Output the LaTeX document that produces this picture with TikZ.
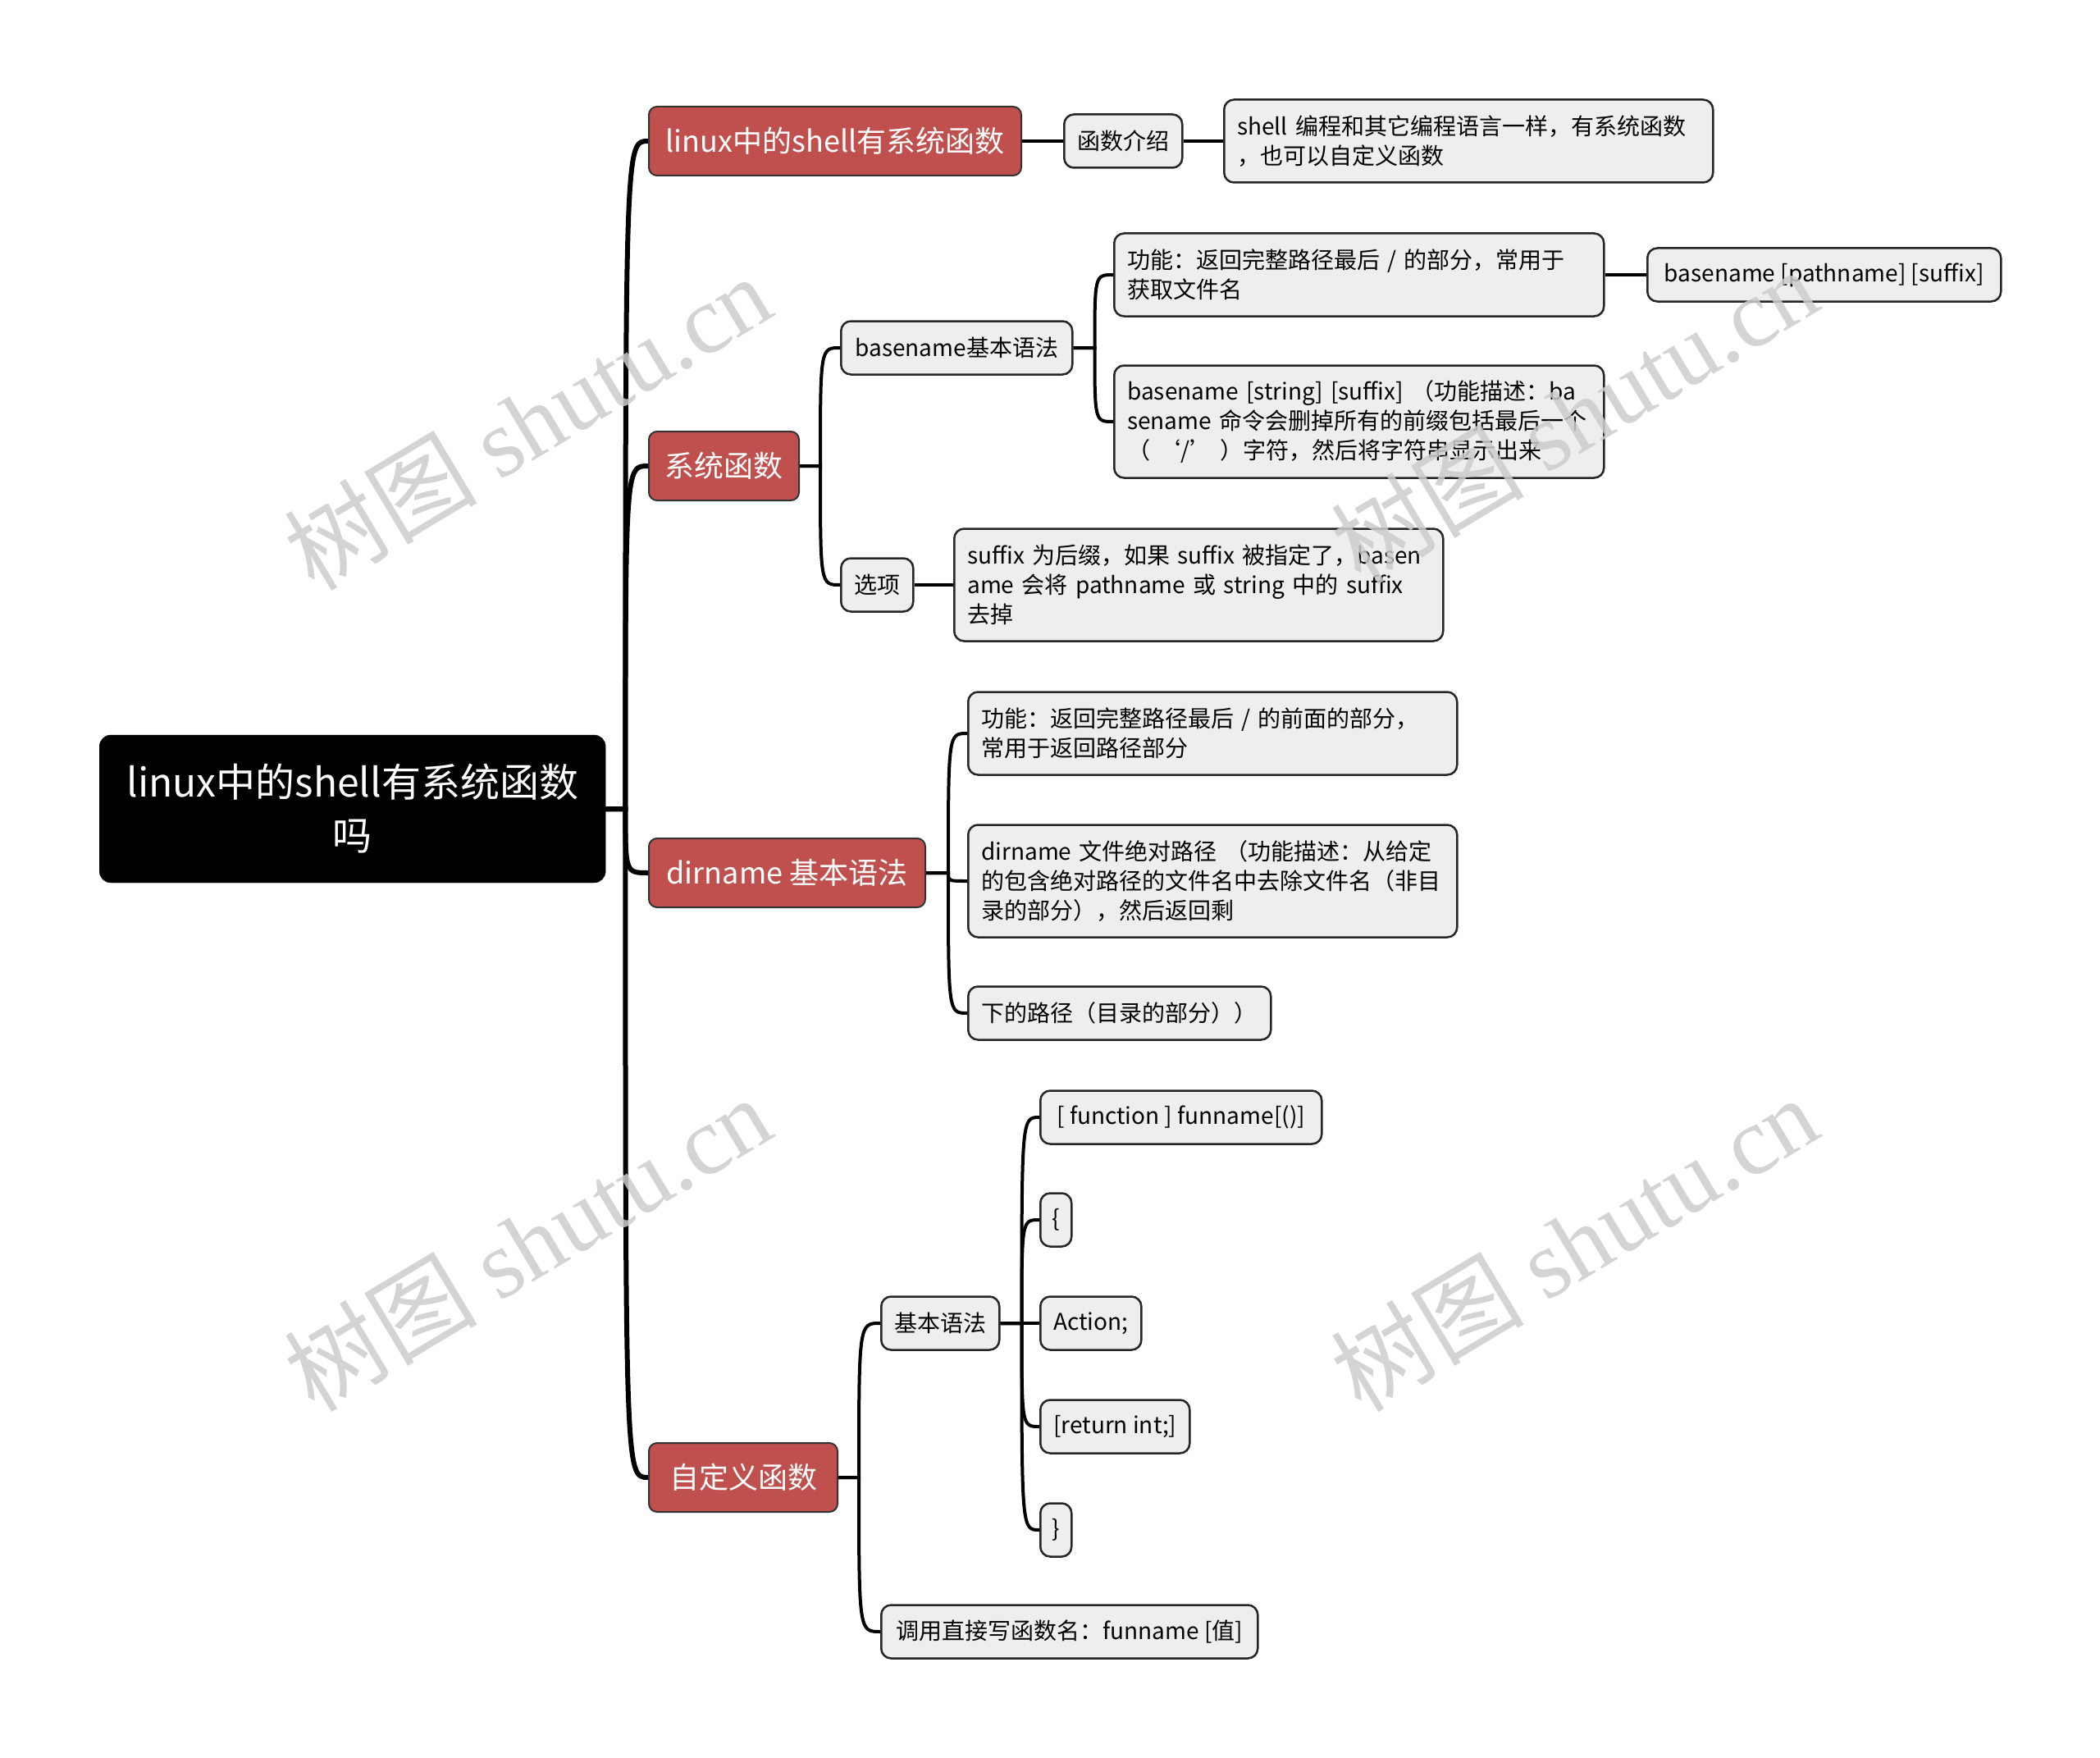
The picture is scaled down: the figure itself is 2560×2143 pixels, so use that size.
\documentclass[tikz,border=0pt]{standalone}
\usepackage{fontspec}
\setmainfont{Noto Sans CJK SC}
\newfontfamily\wmlat{Liberation Serif}
\newfontfamily\wmcjk{Noto Sans CJK SC}
\usetikzlibrary{backgrounds,calc}
\definecolor{nodered}{HTML}{BF504D}
\definecolor{nodegray}{HTML}{EEEEEE}
\definecolor{wmgray}{HTML}{CCCCCC}
\newcommand\brnch[3][conn]{%
  \draw[#1] (#2.east) -- (s-#2) .. controls (s-#2 |- #3.west) and (s-#2 |- #3.west) .. (#3.west);}
\begin{document}
\begin{tikzpicture}[x=1pt,y=-1pt,
  rootbox/.style={fill=black, draw=black, rounded corners=14pt, text=white, align=center,
    font=\fontsize{48}{65}\selectfont, minimum width=617pt, minimum height=180pt, inner sep=0pt, anchor=west},
  redbox/.style={fill=nodered, draw=black!80, line width=2pt, rounded corners=10pt, text=white,
    font=\fontsize{36}{44}\selectfont, minimum height=84pt, inner sep=0pt, anchor=west},
  graybox/.style={fill=nodegray, draw=black!85, line width=2.5pt, rounded corners=12pt,
    font=\fontsize{28}{36}\selectfont, minimum height=65pt, inner xsep=16pt, inner ysep=0pt, anchor=west},
  multi/.style={align=left, text width=#1},
  conn/.style={line width=4pt},
  trunk/.style={line width=6pt},
  wm/.style={text=wmgray, font=\fontsize{118}{118}\selectfont, opacity=0.85, rotate=31}]
\useasboundingbox (0,0) rectangle (2560,2143);

% root
\node[rootbox] (root) at (121,986) {linux中的shell有系统函数\\吗};

% level 1
\node[redbox, minimum width=454pt] (n1) at (790,172) {linux中的shell有系统函数};
\node[redbox, minimum width=183pt] (n2) at (790,568) {系统函数};
\node[redbox, minimum width=337pt] (n3) at (790,1064) {dirname 基本语法};
\node[redbox, minimum width=230pt] (n4) at (790,1801) {自定义函数};

% branch 1
\node[graybox, minimum width=142pt] (intro) at (1296,172) {函数介绍};
\node[graybox, multi=564pt, minimum height=101pt] (shell) at (1491,172)
  {\mbox{shell 编程和其它编程语言一样，有系统函数}\\\mbox{，也可以自定义函数}};

% branch 2
\node[graybox, minimum width=282pt] (bbasic) at (1024,424) {basename基本语法};
\node[graybox, minimum width=86pt] (opt) at (1024,713) {选项};
\node[graybox, multi=565pt, minimum height=101pt] (bfunc) at (1357,335)
  {\mbox{功能：返回完整路径最后 / 的部分，常用于}\\\mbox{获取文件名}};
\node[graybox, minimum width=431pt] (bpath) at (2007,335) {basename [pathname] [suffix]};
\node[graybox, multi=565pt, minimum height=137pt] (bstr) at (1357,514)
  {\mbox{basename [string] [suffix] （功能描述：ba}\\\mbox{sename 命令会删掉所有的前缀包括最后一个}\\\mbox{（ ‘/’ ）字符，然后将字符串显示出来}};
\node[graybox, multi=564pt, minimum height=137pt] (suffix) at (1162,713)
  {\mbox{suffix 为后缀，如果 suffix 被指定了，basen}\\\mbox{ame 会将 pathname 或 string 中的 suffix}\\\mbox{去掉}};

% branch 3
\node[graybox, multi=564pt, minimum height=101pt] (dfunc) at (1179,894)
  {\mbox{功能：返回完整路径最后 / 的前面的部分，}\\\mbox{常用于返回路径部分}};
\node[graybox, multi=564pt, minimum height=137pt] (dfile) at (1179,1074)
  {\mbox{dirname 文件绝对路径 （功能描述：从给定}\\\mbox{的包含绝对路径的文件名中去除文件名（非目}\\\mbox{录的部分），然后返回剩}};
\node[graybox, minimum width=369pt] (drest) at (1179,1235) {下的路径（目录的部分））};

% branch 4
\node[graybox, minimum width=142pt] (basic) at (1073,1613) {基本语法};
\node[graybox, minimum width=459pt] (call) at (1073,1989) {调用直接写函数名：funname [值]};
\node[graybox, minimum width=343pt] (fn) at (1267,1362) {[ function ] funname[()]};
\node[graybox, minimum width=38pt, inner xsep=4pt] (lb) at (1267,1487) {\{};
\node[graybox, minimum width=122pt] (action) at (1267,1613) {Action;};
\node[graybox, minimum width=181pt] (ret) at (1267,1739) {[return int;]};
\node[graybox, minimum width=38pt, inner xsep=4pt] (rb) at (1267,1865) {\}};

% stub coordinates
\coordinate (s-root) at ([xshift=24pt]root.east);
\coordinate (s-n2) at ([xshift=25pt]n2.east);
\coordinate (s-bbasic) at ([xshift=26pt]bbasic.east);
\coordinate (s-n3) at ([xshift=27pt]n3.east);
\coordinate (s-n4) at ([xshift=25pt]n4.east);
\coordinate (s-basic) at ([xshift=26pt]basic.east);

\begin{pgfonlayer}{background}
  \brnch[trunk]{root}{n1}
  \brnch[trunk]{root}{n2}
  \brnch[trunk]{root}{n3}
  \brnch[trunk]{root}{n4}
  \draw[conn] (n1.east) -- (intro.west);
  \draw[conn] (intro.east) -- (shell.west);
  \brnch{n2}{bbasic}
  \brnch{n2}{opt}
  \brnch{bbasic}{bfunc}
  \brnch{bbasic}{bstr}
  \draw[conn] (bfunc.east) -- (bpath.west);
  \draw[conn] (opt.east) -- (suffix.west);
  \brnch{n3}{dfunc}
  \brnch{n3}{dfile}
  \brnch{n3}{drest}
  \brnch{n4}{basic}
  \brnch{n4}{call}
  \brnch{basic}{fn}
  \brnch{basic}{lb}
  \brnch{basic}{action}
  \brnch{basic}{ret}
  \brnch{basic}{rb}
\end{pgfonlayer}

% watermarks
\node[wm] (wm1) at (643,514) {\wmcjk 树图 \wmlat shutu.cn};
\node[wm] (wm2) at (643,1515) {\wmcjk 树图 \wmlat shutu.cn};
\node[wm] (wm3) at (1919,506) {\wmcjk 树图 \wmlat shutu.cn};
\node[wm] (wm4) at (1919,1515) {\wmcjk 树图 \wmlat shutu.cn};
\end{tikzpicture}
\end{document}
